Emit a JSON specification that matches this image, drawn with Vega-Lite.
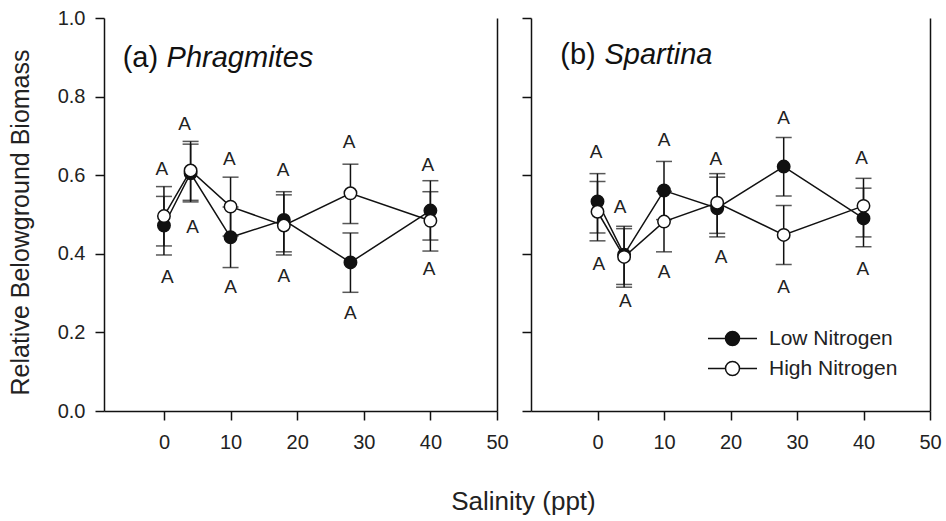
{
  "$schema": "https://vega.github.io/schema/vega-lite/v6.json",
  "padding": {"left": 8, "top": 8, "right": 5, "bottom": 5},
  "background": "white",
  "spacing": 34,
  "bounds": "flush",
  "config": {
    "font": "Liberation Sans",
    "view": {"stroke": null},
    "axis": {
      "domainColor": "#111", "domainWidth": 1.5, "tickColor": "#111", "tickWidth": 1.5, "tickSize": 9,
      "labelFontSize": 20, "labelColor": "#222", "titleFontSize": 25, "titleFontWeight": "normal",
      "titleColor": "#222", "grid": false, "labelFlush": false, "labelOverlap": false
    }
  },
  "resolve": {
    "scale": {"x": "independent", "y": "independent", "fill": "independent"},
    "legend": {"fill": "independent"}
  },
  "datasets": {
    "means": [
      {"panel": "a", "salinity": 0, "nitrogen": "Low Nitrogen", "mean": 0.472, "lo": 0.397, "hi": 0.546},
      {"panel": "a", "salinity": 4, "nitrogen": "Low Nitrogen", "mean": 0.605, "lo": 0.532, "hi": 0.679},
      {"panel": "a", "salinity": 10, "nitrogen": "Low Nitrogen", "mean": 0.442, "lo": 0.365, "hi": 0.519},
      {"panel": "a", "salinity": 18, "nitrogen": "Low Nitrogen", "mean": 0.486, "lo": 0.405, "hi": 0.558},
      {"panel": "a", "salinity": 28, "nitrogen": "Low Nitrogen", "mean": 0.378, "lo": 0.302, "hi": 0.453},
      {"panel": "a", "salinity": 40, "nitrogen": "Low Nitrogen", "mean": 0.510, "lo": 0.435, "hi": 0.586},
      {"panel": "a", "salinity": 0, "nitrogen": "High Nitrogen", "mean": 0.496, "lo": 0.420, "hi": 0.571},
      {"panel": "a", "salinity": 4, "nitrogen": "High Nitrogen", "mean": 0.612, "lo": 0.536, "hi": 0.686},
      {"panel": "a", "salinity": 10, "nitrogen": "High Nitrogen", "mean": 0.520, "lo": 0.445, "hi": 0.595},
      {"panel": "a", "salinity": 18, "nitrogen": "High Nitrogen", "mean": 0.472, "lo": 0.397, "hi": 0.550},
      {"panel": "a", "salinity": 28, "nitrogen": "High Nitrogen", "mean": 0.554, "lo": 0.477, "hi": 0.628},
      {"panel": "a", "salinity": 40, "nitrogen": "High Nitrogen", "mean": 0.484, "lo": 0.407, "hi": 0.558},
      {"panel": "b", "salinity": 0, "nitrogen": "Low Nitrogen", "mean": 0.533, "lo": 0.453, "hi": 0.604},
      {"panel": "b", "salinity": 4, "nitrogen": "Low Nitrogen", "mean": 0.398, "lo": 0.322, "hi": 0.470},
      {"panel": "b", "salinity": 10, "nitrogen": "Low Nitrogen", "mean": 0.561, "lo": 0.487, "hi": 0.635},
      {"panel": "b", "salinity": 18, "nitrogen": "Low Nitrogen", "mean": 0.516, "lo": 0.443, "hi": 0.595},
      {"panel": "b", "salinity": 28, "nitrogen": "Low Nitrogen", "mean": 0.622, "lo": 0.547, "hi": 0.696},
      {"panel": "b", "salinity": 40, "nitrogen": "Low Nitrogen", "mean": 0.490, "lo": 0.418, "hi": 0.567},
      {"panel": "b", "salinity": 0, "nitrogen": "High Nitrogen", "mean": 0.507, "lo": 0.433, "hi": 0.584},
      {"panel": "b", "salinity": 4, "nitrogen": "High Nitrogen", "mean": 0.392, "lo": 0.315, "hi": 0.464},
      {"panel": "b", "salinity": 10, "nitrogen": "High Nitrogen", "mean": 0.482, "lo": 0.405, "hi": 0.559},
      {"panel": "b", "salinity": 18, "nitrogen": "High Nitrogen", "mean": 0.530, "lo": 0.452, "hi": 0.604},
      {"panel": "b", "salinity": 28, "nitrogen": "High Nitrogen", "mean": 0.448, "lo": 0.373, "hi": 0.523},
      {"panel": "b", "salinity": 40, "nitrogen": "High Nitrogen", "mean": 0.522, "lo": 0.443, "hi": 0.592}
    ],
    "letters": [
      {"panel": "a", "salinity": -0.3, "y": 0.616, "letter": "A"},
      {"panel": "a", "salinity": 0.5, "y": 0.340, "letter": "A"},
      {"panel": "a", "salinity": 3.1, "y": 0.730, "letter": "A"},
      {"panel": "a", "salinity": 4.3, "y": 0.469, "letter": "A"},
      {"panel": "a", "salinity": 9.8, "y": 0.640, "letter": "A"},
      {"panel": "a", "salinity": 10, "y": 0.315, "letter": "A"},
      {"panel": "a", "salinity": 17.9, "y": 0.612, "letter": "A"},
      {"panel": "a", "salinity": 18, "y": 0.343, "letter": "A"},
      {"panel": "a", "salinity": 27.8, "y": 0.684, "letter": "A"},
      {"panel": "a", "salinity": 28, "y": 0.249, "letter": "A"},
      {"panel": "a", "salinity": 39.6, "y": 0.627, "letter": "A"},
      {"panel": "a", "salinity": 39.8, "y": 0.362, "letter": "A"},
      {"panel": "b", "salinity": -0.2, "y": 0.658, "letter": "A"},
      {"panel": "b", "salinity": 0.2, "y": 0.375, "letter": "A"},
      {"panel": "b", "salinity": 3.4, "y": 0.518, "letter": "A"},
      {"panel": "b", "salinity": 4.2, "y": 0.281, "letter": "A"},
      {"panel": "b", "salinity": 10, "y": 0.690, "letter": "A"},
      {"panel": "b", "salinity": 10, "y": 0.354, "letter": "A"},
      {"panel": "b", "salinity": 17.8, "y": 0.641, "letter": "A"},
      {"panel": "b", "salinity": 18.6, "y": 0.392, "letter": "A"},
      {"panel": "b", "salinity": 28, "y": 0.746, "letter": "A"},
      {"panel": "b", "salinity": 28, "y": 0.315, "letter": "A"},
      {"panel": "b", "salinity": 39.7, "y": 0.644, "letter": "A"},
      {"panel": "b", "salinity": 39.9, "y": 0.362, "letter": "A"}
    ],
    "tags": [
      {"panel": "a", "salinity": -6.2, "y": 0.876, "label": "(a)"},
      {"panel": "b", "salinity": -5.6, "y": 0.884, "label": "(b)"}
    ],
    "species": [
      {"panel": "a", "salinity": 0.4, "y": 0.876, "label": "Phragmites"},
      {"panel": "b", "salinity": 1.05, "y": 0.884, "label": "Spartina"}
    ]
  },
  "hconcat": [
    {
      "width": 393,
      "height": 393,
      "resolve": {"axis": {"y": "independent"}},
      "encoding": {
        "x": {
          "field": "salinity", "type": "quantitative",
          "scale": {"domain": [-9, 50], "nice": false, "zero": false},
          "axis": {
            "values": [0, 10, 20, 30, 40, 50], "labelPadding": 12,
            "title": "Salinity (ppt)", "titleX": 419, "titleY": 90, "titleBaseline": "middle",
            "titleAlign": "center", "titleFontSize": 26
          }
        }
      },
      "layer": [
        {
          "layer": [
            {
              "data": {"name": "means"},
              "transform": [{"filter": "datum.panel === 'a'"}],
              "mark": {"type": "rule", "color": "#111", "strokeWidth": 1.5},
              "encoding": {
                "y": {
                  "field": "lo", "type": "quantitative",
                  "scale": {"domain": [0, 1], "nice": false, "zero": false},
                  "axis": {"title": "Relative Belowground Biomass", "values": [0, 0.2, 0.4, 0.6, 0.8, 1.0], "format": ".1f", "labelPadding": 10, "titlePadding": 24, "titleY": 204}
                },
                "y2": {"field": "hi"}
              }
            },
            {
              "data": {"name": "means"},
              "transform": [{"filter": "datum.panel === 'a'"}],
              "mark": {"type": "tick", "orient": "horizontal", "color": "#111", "size": 16, "thickness": 1.5},
              "encoding": {"y": {"field": "lo", "type": "quantitative", "axis": {"title": "Relative Belowground Biomass"}}}
            },
            {
              "data": {"name": "means"},
              "transform": [{"filter": "datum.panel === 'a'"}],
              "mark": {"type": "tick", "orient": "horizontal", "color": "#111", "size": 16, "thickness": 1.5},
              "encoding": {"y": {"field": "hi", "type": "quantitative", "axis": {"title": "Relative Belowground Biomass"}}}
            },
            {
              "data": {"name": "means"},
              "transform": [{"filter": "datum.panel === 'a'"}],
              "mark": {"type": "line", "color": "#111", "strokeWidth": 1.5},
              "encoding": {
                "y": {"field": "mean", "type": "quantitative", "axis": {"title": "Relative Belowground Biomass"}},
                "detail": {"field": "nitrogen"},
                "order": {"field": "salinity", "type": "quantitative"}
              }
            },
            {
              "data": {"name": "means"},
              "transform": [{"filter": "datum.panel === 'a'"}],
              "mark": {"type": "point", "shape": "circle", "filled": false, "size": 154, "stroke": "#111", "strokeWidth": 1.5, "opacity": 1},
              "encoding": {
                "y": {"field": "mean", "type": "quantitative", "axis": {"title": "Relative Belowground Biomass"}},
                "fill": {
                  "field": "nitrogen", "type": "nominal",
                  "scale": {"domain": ["Low Nitrogen", "High Nitrogen"], "range": ["#111111", "#ffffff"]},
                  "legend": null
                }
              }
            },
            {
              "data": {"name": "tags"},
              "transform": [{"filter": "datum.panel === 'a'"}],
              "mark": {"type": "text", "fontSize": 29, "color": "#111", "align": "left", "baseline": "alphabetic"},
              "encoding": {
                "y": {"field": "y", "type": "quantitative", "axis": {"title": "Relative Belowground Biomass"}},
                "text": {"field": "label"}
              }
            },
            {
              "data": {"name": "species"},
              "transform": [{"filter": "datum.panel === 'a'"}],
              "mark": {"type": "text", "fontSize": 29, "fontStyle": "italic", "color": "#111", "align": "left", "baseline": "alphabetic"},
              "encoding": {
                "y": {"field": "y", "type": "quantitative", "axis": {"title": "Relative Belowground Biomass"}},
                "text": {"field": "label"}
              }
            }
          ]
        },
        {
          "data": {"name": "letters"},
          "transform": [{"filter": "datum.panel === 'a'"}],
          "mark": {"type": "text", "fontSize": 19, "color": "#222", "baseline": "middle", "align": "center"},
          "encoding": {
            "y": {"field": "y", "type": "quantitative", "axis": {"orient": "right", "title": null, "labels": false, "ticks": false, "values": [0, 1]}},
            "text": {"field": "letter"}
          }
        }
      ]
    },
    {
      "width": 399,
      "height": 393,
      "resolve": {"axis": {"y": "independent"}},
      "encoding": {
        "x": {
          "field": "salinity", "type": "quantitative",
          "scale": {"domain": [-10, 50], "nice": false, "zero": false},
          "axis": {"values": [0, 10, 20, 30, 40, 50], "labelPadding": 12, "title": null}
        }
      },
      "layer": [
        {
          "layer": [
            {
              "data": {"name": "means"},
              "transform": [{"filter": "datum.panel === 'b'"}],
              "mark": {"type": "rule", "color": "#111", "strokeWidth": 1.5},
              "encoding": {
                "y": {
                  "field": "lo", "type": "quantitative",
                  "scale": {"domain": [0, 1], "nice": false, "zero": false},
                  "axis": {"labels": false, "title": null, "values": [0, 0.2, 0.4, 0.6, 0.8, 1.0]}
                },
                "y2": {"field": "hi"}
              }
            },
            {
              "data": {"name": "means"},
              "transform": [{"filter": "datum.panel === 'b'"}],
              "mark": {"type": "tick", "orient": "horizontal", "color": "#111", "size": 16, "thickness": 1.5},
              "encoding": {"y": {"field": "lo", "type": "quantitative", "axis": {"labels": false, "title": null}}}
            },
            {
              "data": {"name": "means"},
              "transform": [{"filter": "datum.panel === 'b'"}],
              "mark": {"type": "tick", "orient": "horizontal", "color": "#111", "size": 16, "thickness": 1.5},
              "encoding": {"y": {"field": "hi", "type": "quantitative", "axis": {"labels": false, "title": null}}}
            },
            {
              "data": {"name": "means"},
              "transform": [{"filter": "datum.panel === 'b'"}],
              "mark": {"type": "line", "color": "#111", "strokeWidth": 1.5},
              "encoding": {
                "y": {"field": "mean", "type": "quantitative", "axis": {"labels": false, "title": null}},
                "detail": {"field": "nitrogen"},
                "order": {"field": "salinity", "type": "quantitative"}
              }
            },
            {
              "data": {"name": "means"},
              "transform": [{"filter": "datum.panel === 'b'"}],
              "mark": {"type": "point", "shape": "circle", "filled": false, "size": 154, "stroke": "#111", "strokeWidth": 1.5, "opacity": 1},
              "encoding": {
                "y": {"field": "mean", "type": "quantitative", "axis": {"labels": false, "title": null}},
                "fill": {
                  "field": "nitrogen", "type": "nominal",
                  "scale": {"domain": ["Low Nitrogen", "High Nitrogen"], "range": ["#111111", "#ffffff"]},
                  "legend": {
                    "title": null, "orient": "none", "legendX": 191, "legendY": 310, "padding": 0,
                    "symbolType": "M-3.5,0H-1M1,0H3.5M-1,0A1,1,0,1,0,1,0A1,1,0,1,0,-1,0Z",
                    "symbolSize": 196, "symbolStrokeColor": "#111", "symbolStrokeWidth": 1.5,
                    "labelFontSize": 21, "labelColor": "#222", "labelOffset": 26, "rowPadding": 8
                  }
                }
              }
            },
            {
              "data": {"name": "tags"},
              "transform": [{"filter": "datum.panel === 'b'"}],
              "mark": {"type": "text", "fontSize": 29, "color": "#111", "align": "left", "baseline": "alphabetic"},
              "encoding": {
                "y": {"field": "y", "type": "quantitative", "axis": {"labels": false, "title": null}},
                "text": {"field": "label"}
              }
            },
            {
              "data": {"name": "species"},
              "transform": [{"filter": "datum.panel === 'b'"}],
              "mark": {"type": "text", "fontSize": 29, "fontStyle": "italic", "color": "#111", "align": "left", "baseline": "alphabetic"},
              "encoding": {
                "y": {"field": "y", "type": "quantitative", "axis": {"labels": false, "title": null}},
                "text": {"field": "label"}
              }
            }
          ]
        },
        {
          "data": {"name": "letters"},
          "transform": [{"filter": "datum.panel === 'b'"}],
          "mark": {"type": "text", "fontSize": 19, "color": "#222", "baseline": "middle", "align": "center"},
          "encoding": {
            "y": {"field": "y", "type": "quantitative", "axis": {"orient": "right", "title": null, "labels": false, "ticks": false, "values": [0, 1]}},
            "text": {"field": "letter"}
          }
        }
      ]
    }
  ]
}
